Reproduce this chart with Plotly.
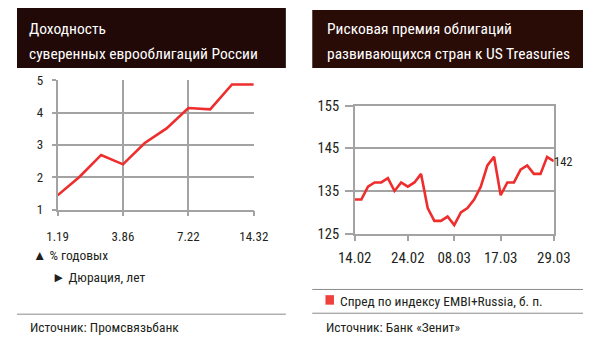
import plotly.graph_objects as go

# ---- data ----
dur_labels = ["1.19", "1.9", "2.9", "3.86", "4.6", "5.5", "7.22", "8.6", "10.9", "14.32"]
yield_vals = [1.44, 2.01, 2.69, 2.40, 3.06, 3.51, 4.14, 4.10, 4.87, 4.87]
dur_ticks = ["1.19", "3.86", "7.22", "14.32"]

dates = ["14.02", "15.02", "16.02", "17.02", "20.02", "21.02", "22.02", "23.02", "24.02",
         "27.02", "28.02", "01.03", "02.03", "03.03", "07.03", "08.03",
         "09.03", "10.03", "13.03", "14.03", "15.03", "16.03", "17.03",
         "20.03", "21.03", "22.03", "23.03", "24.03", "27.03", "28.03", "29.03"]
spread = [133, 133, 136, 137, 137, 138, 135, 137, 136, 137, 139,
          131, 128, 128, 129, 127, 130, 131, 133, 136, 141, 143,
          134, 137, 137, 140, 141, 139, 139, 143, 142]
date_ticks = ["14.02", "24.02", "08.03", "17.03", "29.03"]
spread_ticks = [125, 135, 145, 155]

W, H = 600, 346
FONT = "Liberation Sans Narrow, Roboto Condensed, Roboto, sans-serif"
RED = "#ee2d2d"
GRID = "#a3a3a3"
TXT = "#231f20"

def px(x):
    return x / W

def py(y):
    return 1 - y / H

fig = go.Figure()
fig.add_trace(go.Scatter(x=dur_labels, y=yield_vals, mode="lines",
                         line=dict(color=RED, width=2.6), xaxis="x", yaxis="y",
                         showlegend=False, hoverinfo="skip"))
fig.add_trace(go.Scatter(x=dates, y=spread, mode="lines",
                         line=dict(color=RED, width=2.6), xaxis="x2", yaxis="y2",
                         showlegend=False, hoverinfo="skip"))

axis_common = dict(showline=True, linecolor=GRID, linewidth=1.5, gridcolor=GRID, gridwidth=1.5,
                   ticks="outside", tickcolor=GRID, tickwidth=1.5, zeroline=False,
                   tickfont=dict(family=FONT, color=TXT))

fig.update_layout(
    width=W, height=H, margin=dict(l=0, r=0, t=0, b=0),
    paper_bgcolor="white", plot_bgcolor="white",
    xaxis=dict(axis_common, domain=[px(43), px(251)], anchor="y", type="category",
               range=[0, len(dur_labels) - 1], tickvals=dur_ticks, ticktext=dur_ticks,
               showgrid=True, ticklen=5, ticklabelstandoff=9,
               tickfont=dict(family=FONT, color=TXT, size=13)),
    yaxis=dict(axis_common, domain=[py(212), py(76)], anchor="x", range=[1, 5],
               tickvals=[1, 2, 3, 4, 5], showgrid=True, ticklen=4, ticklabelstandoff=6,
               tickfont=dict(family=FONT, color=TXT, size=13)),
    xaxis2=dict(axis_common, domain=[px(358), px(569)], anchor="y2", type="category",
                range=[0, len(dates) - 1], tickvals=date_ticks, ticktext=date_ticks,
                showgrid=False, ticklen=6, ticklabelstandoff=4, mirror=True,
                tickfont=dict(family=FONT, color=TXT, size=15)),
    yaxis2=dict(axis_common, domain=[py(237.3), py(102.7)], anchor="x2", range=[125, 155],
                tickvals=spread_ticks, showgrid=True, ticklen=8, ticklabelstandoff=3,
                mirror=True,
                tickfont=dict(family=FONT, color=TXT, size=14.5)),
)

shapes = [
    dict(type="rect", xref="paper", yref="paper", x0=px(0), x1=px(285), y0=py(63), y1=py(0),
         fillcolor="#200906", line=dict(width=0), layer="below"),
    dict(type="rect", xref="paper", yref="paper", x0=px(313), x1=px(600), y0=py(63), y1=py(2),
         fillcolor="#2a0c07", line=dict(width=0), layer="below"),
    dict(type="line", xref="paper", yref="paper", x0=px(0), x1=px(285), y0=py(322), y1=py(322),
         line=dict(color="#8a8a8a", width=1)),
    dict(type="line", xref="paper", yref="paper", x0=px(313), x1=px(600), y0=py(296), y1=py(296),
         line=dict(color="#8a8a8a", width=1)),
    dict(type="line", xref="paper", yref="paper", x0=px(313), x1=px(600), y0=py(321), y1=py(321),
         line=dict(color="#8a8a8a", width=1)),
    dict(type="rect", xref="paper", yref="paper", x0=px(327), x1=px(336), y0=py(312), y1=py(302),
         fillcolor="#f0403a", line=dict(width=0)),
]

def txt(x, y, s, size=14, color=TXT, anchor="left"):
    return dict(x=px(x), y=py(y), xref="paper", yref="paper", text=s, showarrow=False,
                xanchor=anchor, yanchor="middle", font=dict(family=FONT, size=size, color=color))

annotations = [
    txt(11, 22, "Доходность", 15.5, "white"),
    txt(11, 48, "суверенных еврооблигаций России", 15.5, "white"),
    txt(326, 22, "Рисковая премия облигаций", 15.5, "white"),
    txt(326, 48, "развивающихся стран к US Treasuries", 15.5, "white"),
    txt(15, 260, "▲ % годовых", 13.5),
    txt(35, 283, "► Дюрация, лет", 13.5),
    txt(12, 335, "Источник: Промсвязьбанк", 13.5),
    txt(340, 308, "Спред по индексу EMBI+Russia, б. п.", 13.5),
    txt(325, 335, "Источник: Банк «Зенит»", 13.5),
    dict(x=dates[-1], y=spread[-1], xref="x2", yref="y2", text=str(spread[-1]), showarrow=False,
         xanchor="left", yanchor="middle", xshift=5,
         font=dict(family=FONT, size=12.5, color=TXT)),
]
fig.update_layout(shapes=shapes, annotations=annotations)

fig.write_html("out.html")
